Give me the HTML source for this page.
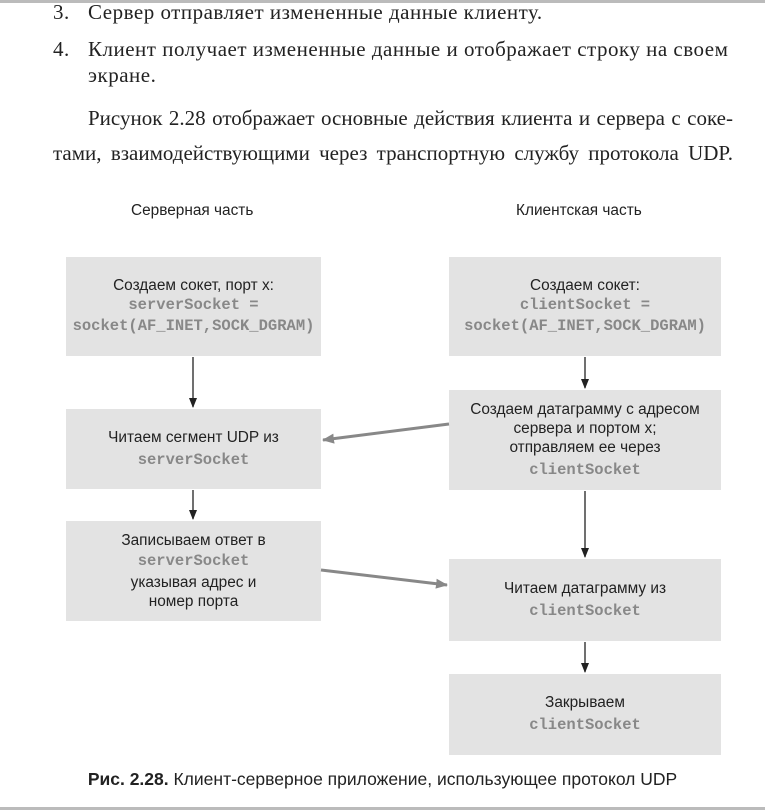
<!DOCTYPE html>
<html><head><meta charset="utf-8"><style>
body{margin:0;width:765px;height:810px;background:#fff;position:relative;overflow:hidden;font-family:"Liberation Sans",sans-serif;color:#222}
.t{position:absolute;font-family:"Liberation Serif",serif;font-size:21px;color:#222;white-space:nowrap;letter-spacing:0.5px}
.j{position:absolute;font-family:"Liberation Serif",serif;font-size:21px;color:#222;white-space:nowrap;text-align:justify;text-align-last:justify}
.box{position:absolute;background:#e3e3e3;display:flex;flex-direction:column;justify-content:center;align-items:center;text-align:center;font-size:15.4px;line-height:19px;color:#222}
.m{font-family:"Liberation Mono",monospace;color:#888;font-weight:bold;font-size:15.5px;line-height:21px}
.h{position:absolute;font-size:15.4px;color:#222}
</style></head><body>
<div style="position:absolute;left:0;top:0;width:765px;height:3px;background:#bbb"></div>
<div class="t" style="left:53px;top:0px">3.</div><div class="t" style="left:88px;top:0px">Сервер отправляет измененные данные клиенту.</div>
<div class="t" style="left:53px;top:37px">4.</div><div class="t" style="left:88px;top:37px">Клиент получает измененные данные и отображает строку на своем</div>
<div class="t" style="left:88px;top:63px">экране.</div>
<div class="j" style="left:88px;top:106px;width:645px">Рисунок 2.28 отображает основные действия клиента и сервера с соке-</div>
<div class="j" style="left:53px;top:141px;width:680px">тами, взаимодействующими через транспортную службу протокола UDP.</div>
<div class="h" style="left:131px;top:202px">Серверная часть</div>
<div class="h" style="left:516px;top:202px">Клиентская часть</div>
<div class="box" style="left:66px;top:257px;width:255px;height:99px"><div>Создаем сокет, порт x:</div><div class="m">serverSocket =</div><div class="m">socket(AF_INET,SOCK_DGRAM)</div></div>
<div class="box" style="left:449px;top:257px;width:272px;height:99px"><div>Создаем сокет:</div><div class="m">clientSocket =</div><div class="m">socket(AF_INET,SOCK_DGRAM)</div></div>
<div class="box" style="left:66px;top:409px;width:255px;height:80px"><div>Читаем сегмент UDP из</div><div class="m" style="margin-top:3px">serverSocket</div></div>
<div class="box" style="left:449px;top:390px;width:272px;height:100px"><div>Создаем датаграмму с адресом</div><div>сервера и портом x;</div><div>отправляем ее через</div><div class="m" style="margin-top:3px">clientSocket</div></div>
<div class="box" style="left:66px;top:521px;width:255px;height:100px"><div>Записываем ответ в</div><div class="m" style="margin:1px 0">serverSocket</div><div>указывая адрес и</div><div>номер порта</div></div>
<div class="box" style="left:449px;top:559px;width:272px;height:82px"><div>Читаем датаграмму из</div><div class="m" style="margin-top:3px">clientSocket</div></div>
<div class="box" style="left:449px;top:674px;width:272px;height:81px"><div>Закрываем</div><div class="m" style="margin-top:3px">clientSocket</div></div>
<svg style="position:absolute;left:0;top:0" width="765" height="810">
<defs><marker id="a" markerWidth="10" markerHeight="10" refX="9" refY="5" orient="auto" markerUnits="userSpaceOnUse"><path d="M0,1 L10,5 L0,9 Z" fill="#222"/></marker>
<marker id="g" markerWidth="12" markerHeight="12" refX="11" refY="6" orient="auto" markerUnits="userSpaceOnUse"><path d="M0,1 L12,6 L0,11 Z" fill="#888"/></marker></defs>
<g stroke="#222" stroke-width="1.3">
<line x1="193" y1="357" x2="193" y2="407" marker-end="url(#a)"/>
<line x1="193" y1="490" x2="193" y2="519" marker-end="url(#a)"/>
<line x1="585" y1="357" x2="585" y2="388" marker-end="url(#a)"/>
<line x1="585" y1="491" x2="585" y2="557" marker-end="url(#a)"/>
<line x1="585" y1="642" x2="585" y2="672" marker-end="url(#a)"/>
</g>
<g stroke="#888" stroke-width="3">
<line x1="449" y1="424" x2="323" y2="440" marker-end="url(#g)"/>
<line x1="321" y1="570" x2="447" y2="585" marker-end="url(#g)"/>
</g>
</svg>
<div style="position:absolute;left:0;width:765px;top:769px;text-align:center;font-size:17.5px;color:#222"><b>Рис. 2.28.</b> Клиент-серверное приложение, использующее протокол UDP</div>
<div style="position:absolute;left:0;top:807px;width:765px;height:3px;background:#bbb"></div>
</body></html>
